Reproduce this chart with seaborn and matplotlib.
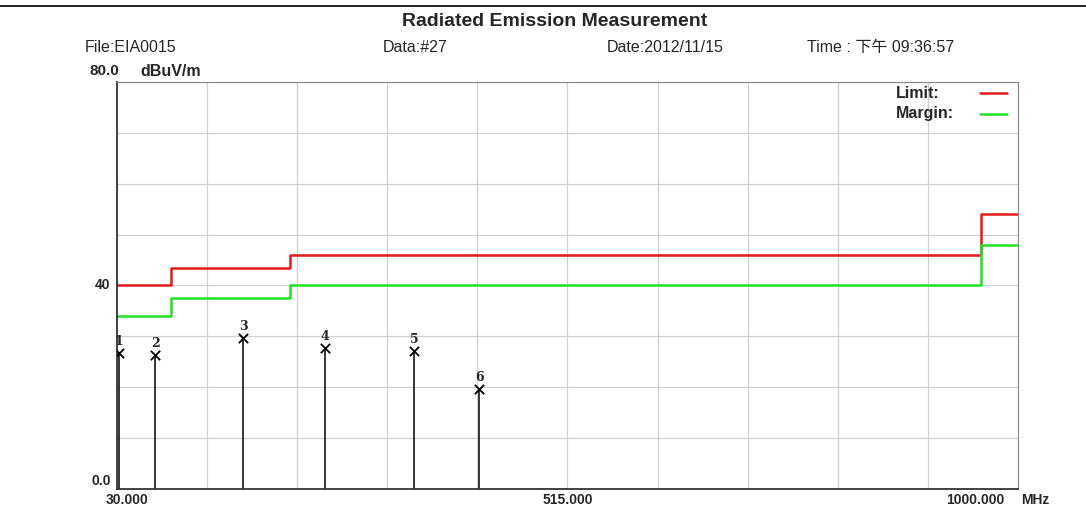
import numpy as np
import matplotlib
matplotlib.use("Agg")
import matplotlib.pyplot as plt
import matplotlib.transforms as mtrans
import seaborn as sns

# ── Data ─────────────────────────────────────────────────────────────────────
limit_freq = [30, 88, 216, 960, 1000]
limit_level = [40, 43.5, 46, 54, 54]
margin_level = [34, 37.5, 40, 48, 48]

peak_no = ['1', '2', '3', '4', '5', '6']
peak_freq = [32.5, 71.0, 166.0, 254.0, 350.0, 420.0]
peak_level = [26.7, 26.4, 29.7, 27.7, 27.1, 19.7]

x_grid = np.linspace(30, 1000, 11)
y_grid = np.arange(0, 81, 10)

# ── Style ────────────────────────────────────────────────────────────────────
sns.set_style('white')
plt.rcParams['font.family'] = ['Liberation Sans', 'Noto Sans CJK SC', 'DejaVu Sans']
RED = '#e31a1a'; GREEN = '#22e022'

fig = plt.figure(figsize=(10.86, 5.08), dpi=100)
ax = fig.add_axes([0.1077, 0.0374, 0.8297, 0.8012])

sns.lineplot(x=limit_freq, y=limit_level, ax=ax, color=RED, linewidth=1.8,
             drawstyle='steps-post', sort=False, legend=False)
sns.lineplot(x=limit_freq, y=margin_level, ax=ax, color=GREEN, linewidth=1.8,
             drawstyle='steps-post', sort=False, legend=False)

# peaks: vertical sticks with x markers
ax.vlines(peak_freq, 0, peak_level, color='black', linewidth=1.1)
sns.scatterplot(x=peak_freq, y=peak_level, ax=ax, marker='x', color='black',
                s=45, linewidth=1.3, zorder=5)
for n, f, v in zip(peak_no, peak_freq, peak_level):
    ax.text(f, v + 1.0, n, ha='center', va='bottom', fontsize=9,
            family='DejaVu Serif', fontweight='bold')

ax.set_xlim(30, 1000)
ax.set_ylim(0, 80)
ax.set_xticks(x_grid)
ax.set_yticks(y_grid)
ax.set_xticklabels([])
ax.set_yticklabels([])
ax.tick_params(length=0)
ax.grid(True, color='#d0d0d0', linewidth=0.9)
for side in ['top', 'right']:
    ax.spines[side].set_color('#888888')
for side in ['left', 'bottom']:
    ax.spines[side].set_color('#333333')
    ax.spines[side].set_linewidth(1.3)

# axis labels (placed like the analyser printout)
xt = mtrans.blended_transform_factory(ax.transData, ax.transAxes)
yt = mtrans.blended_transform_factory(ax.transAxes, ax.transData)
lab = dict(fontsize=10, fontweight='bold', va='center')
ax.text(40.8, -0.027, '30.000', transform=xt, ha='center', **lab)
ax.text(515, -0.027, '515.000', transform=xt, ha='center', **lab)
ax.text(985, -0.027, '1000.000', transform=xt, ha='right', **lab)
ax.text(1.003, -0.027, 'MHz', transform=ax.transAxes, ha='left', **lab)
ax.text(-0.008, 40, '40', transform=yt, ha='right', **lab)
ax.text(-0.007, 1.6, '0.0', transform=yt, ha='right', **lab)

# legend box: text on the left, line key on the right
for yy, name, col in [(0.972, 'Limit:', RED), (0.922, 'Margin:', GREEN)]:
    ax.text(0.864, yy, name, transform=ax.transAxes, ha='left', va='center',
            fontsize=11.5, fontweight='bold')
    ax.plot([0.958, 0.988], [yy, yy], transform=ax.transAxes, color=col, linewidth=1.8)

# ── Header texts ─────────────────────────────────────────────────────────────
fig.add_artist(plt.Line2D([0, 1], [1 - 6 / 508, 1 - 6 / 508], color='black', linewidth=1.2))
fig.text(555 / 1086, 1 - 22 / 508, 'Radiated Emission Measurement', ha='center', va='center',
         fontsize=14, fontweight='bold')
info = dict(ha='left', va='center', fontsize=11.5)
fig.text(85 / 1086, 1 - 47 / 508, 'File:EIA0015', **info)
fig.text(383 / 1086, 1 - 47 / 508, 'Data:#27', **info)
fig.text(607 / 1086, 1 - 47 / 508, 'Date:2012/11/15', **info)
fig.text(807 / 1086, 1 - 47 / 508, 'Time : 下午 09:36:57', **info)
fig.text(89 / 1086, 1 - 71 / 508, '80.0', ha='left', va='center', fontsize=11,
         fontweight='bold')
fig.text(140 / 1086, 1 - 71 / 508, 'dBuV/m', ha='left', va='center', fontsize=11.5,
         fontweight='bold')

fig.savefig('out.png', dpi=100)
